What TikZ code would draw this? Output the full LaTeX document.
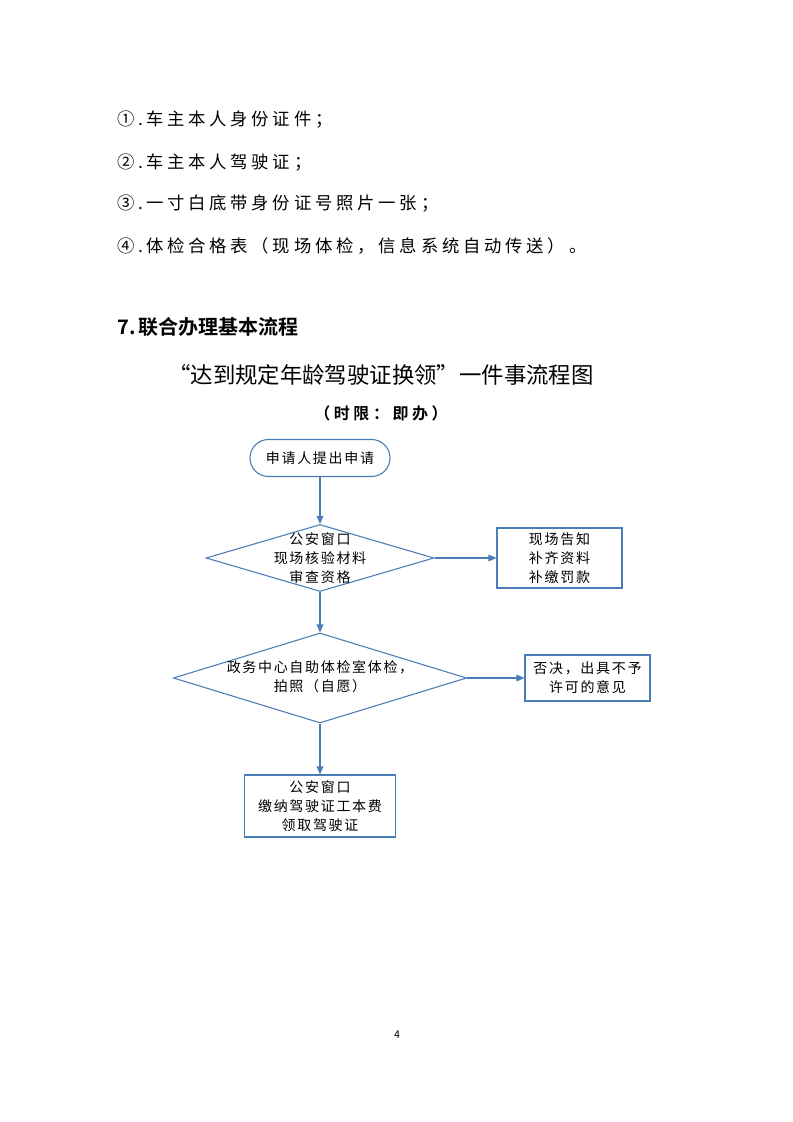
\documentclass[tikz,border=0pt]{standalone}
\usepackage{fontspec}
\setmainfont{Noto Sans CJK SC}
\newfontfamily\itemfont[LetterSpace=22]{Noto Sans CJK SC}
\newfontfamily\flowfont[LetterSpace=12]{Noto Sans CJK SC}
\newfontfamily\subfont[LetterSpace=22]{Noto Sans CJK SC Bold}
\newfontfamily\headfont{Noto Sans CJK SC Bold}
\usetikzlibrary{shapes.geometric,arrows.meta}
\definecolor{flowblue}{HTML}{4A7DB8}
\begin{document}
\begin{tikzpicture}[x=0.75pt,y=-0.75pt,
  itemtext/.style={anchor=west,inner sep=0pt,font=\itemfont\fontsize{13pt}{15pt}\selectfont},
  flowtext/.style={align=center,inner sep=0pt,font=\flowfont\fontsize{10.5pt}{14.2pt}\selectfont},
  boxnode/.style={draw=flowblue,line width=0.8pt,rectangle,inner sep=0pt},
  decnode/.style={draw=flowblue,line width=0.8pt,diamond,inner sep=0pt},
  conn/.style={draw=flowblue,line width=0.8pt,-{Triangle[length=6pt,width=5pt]}}]
\useasboundingbox (0,0) rectangle (793,1122);
\fill[white] (0,0) rectangle (793,1122);
% list items
\node[itemtext] (i1) at (117,120) {①.\,车主本人身份证件；};
\node[itemtext] (i2) at (117,163) {②.\,车主本人驾驶证；};
\node[itemtext] (i3) at (117,204) {③.\,一寸白底带身份证号照片一张；};
\node[itemtext] (i4) at (117,246) {④.\,体检合格表（现场体检，信息系统自动传送）。};
% heading
\node[anchor=west,inner sep=0pt,font=\headfont\fontsize{15pt}{17pt}\selectfont] (h) at (117,327) {7.\,联合办理基本流程};
\node[inner sep=0pt,font=\fontsize{16.8pt}{19pt}\selectfont] (title) at (381,375) {“达到规定年龄驾驶证换领”一件事流程图};
\node[inner sep=0pt,font=\subfont\fontsize{12pt}{14pt}\selectfont] (sub) at (381,413) {（时限：即办）};
% flowchart
\node[boxnode,rounded corners=13.8pt,minimum width=105pt,minimum height=27.75pt] (start) at (320,458) {};
\node[flowtext] (startt) at (start.center) {申请人提出申请};
\node[decnode,minimum width=171pt,minimum height=50.25pt] (d1) at (320,558) {};
\node[flowtext] (d1t) at (d1.center) {公安窗口\\现场核验材料\\审查资格};
\node[boxnode,minimum width=93.75pt,minimum height=45pt] (b2) at (559.5,558) {};
\node[flowtext] (b2t) at (b2.center) {现场告知\\补齐资料\\补缴罚款};
\node[decnode,minimum width=220pt,minimum height=67.5pt] (d2) at (320,678) {};
\node[flowtext] (d2t) at (320,677) {政务中心自助体检室体检，\\拍照（自愿）};
\node[boxnode,minimum width=93.75pt,minimum height=34.5pt] (b3) at (587.5,678) {};
\node[flowtext] (b3t) at (b3.center) {否决，出具不予\\许可的意见};
\node[boxnode,minimum width=113.25pt,minimum height=46.5pt] (b4) at (320,806) {};
\node[flowtext] (b4t) at (b4.center) {公安窗口\\缴纳驾驶证工本费\\领取驾驶证};
\draw[conn] (start.south) -- (d1.north);
\draw[conn] (d1.east) -- (b2.west);
\draw[conn] (d1.south) -- (d2.north);
\draw[conn] (d2.east) -- (b3.west);
\draw[conn] (d2.south) -- (b4.north);
% page number
\node[inner sep=0pt,font=\fontsize{8pt}{10pt}\selectfont] (pg) at (397,1035) {4};
\end{tikzpicture}
\end{document}
